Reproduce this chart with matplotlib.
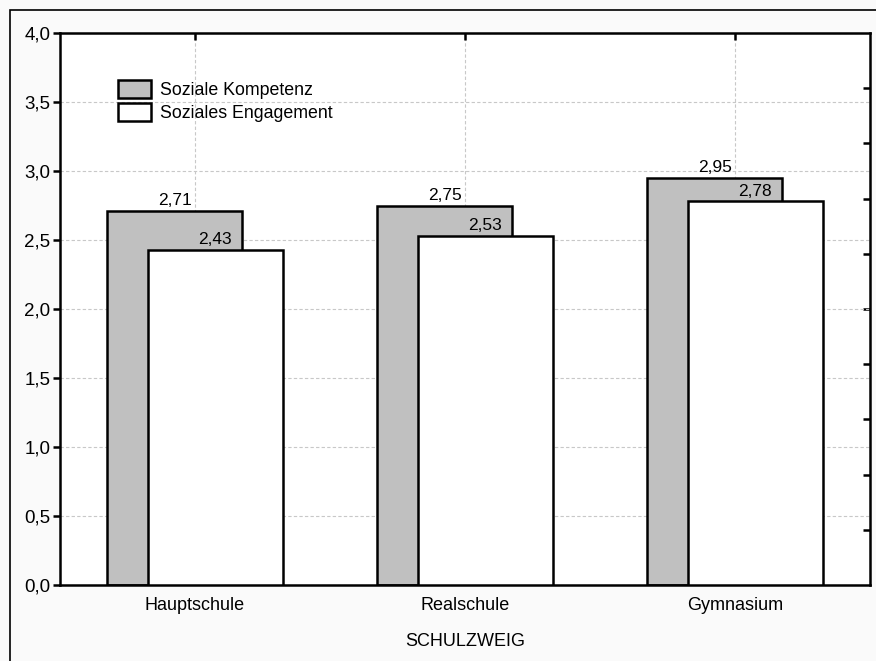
import matplotlib.pyplot as plt
import numpy as np
from matplotlib.patches import Rectangle

plt.rcParams['font.family'] = ['Liberation Sans', 'DejaVu Sans']

# Mittelwerte je Schulzweig
schulzweige = ["Hauptschule", "Realschule", "Gymnasium"]
kompetenz = [2.71, 2.75, 2.95]
engagement = [2.43, 2.53, 2.78]
reihen = ["Soziale Kompetenz", "Soziales Engagement"]

def komma(v):
    return f"{v:.2f}".replace(".", ",")

fig = plt.figure(figsize=(8.76, 6.61), dpi=100, facecolor="#fafafa")
ax = fig.add_axes([60/876, 1-585/661, 810/876, 552/661])
ax.set_facecolor("white")

x = np.arange(len(schulzweige))
breite = 0.5
versatz = 0.075

ax.bar(x - versatz, kompetenz, breite, color="#c0c0c0", edgecolor="black",
       linewidth=1.8, label=reihen[0], zorder=2)
ax.bar(x + versatz, engagement, breite, color="white", edgecolor="black",
       linewidth=1.8, label=reihen[1], zorder=3)

for xi, v in zip(x - versatz, kompetenz):
    ax.text(xi, v + 0.02, komma(v), ha="center", va="bottom", fontsize=12.5, zorder=4)
for xi, v in zip(x + versatz, engagement):
    ax.text(xi, v + 0.02, komma(v), ha="center", va="bottom", fontsize=12.5, zorder=4)

ax.set_xlim(-0.5, 2.5)
ax.set_ylim(0, 4.0)
ax.set_yticks(np.arange(0, 4.01, 0.5))
ax.set_yticklabels([f"{t:.1f}".replace(".", ",") for t in np.arange(0, 4.01, 0.5)])
ax.set_xticks(x)
ax.set_xticklabels(schulzweige)
ax.set_xlabel("SCHULZWEIG", fontsize=13, labelpad=13)

ax.tick_params(axis="y", direction="out", length=5, width=1.8, labelsize=13.5, pad=2)
ax.tick_params(axis="x", direction="in", length=5, width=1.8, labelsize=13, pad=9,
               top=True)

# rechte Achse mit eigenen Teilstrichen
rechts = ax.secondary_yaxis("right")
rechts.set_yticks(np.arange(0.4, 4.0, 0.4))
rechts.tick_params(direction="in", length=5, width=1.8, labelright=False)
rechts.spines["right"].set_visible(False)

for s in ax.spines.values():
    s.set_linewidth(1.8)

ax.set_axisbelow(True)
ax.grid(True, color="#c8c8c8", linestyle=(0, (3, 2)), linewidth=0.8)

leg = ax.legend(loc="upper left", bbox_to_anchor=(0.063, 0.928), frameon=False,
                fontsize=12.8, handlelength=1.85, handleheight=1.2, handletextpad=0.5,
                labelspacing=0.2, borderaxespad=0)
for h in leg.legend_handles:
    h.set_linewidth(1.8)

# Rahmen um die Grafik
fig.patches.append(Rectangle((10/876, -0.1), 2, 1 - 10/661 + 0.1,
                             transform=fig.transFigure, fill=False,
                             edgecolor="black", linewidth=1.2))

fig.savefig("out.png", dpi=100, facecolor=fig.get_facecolor())
